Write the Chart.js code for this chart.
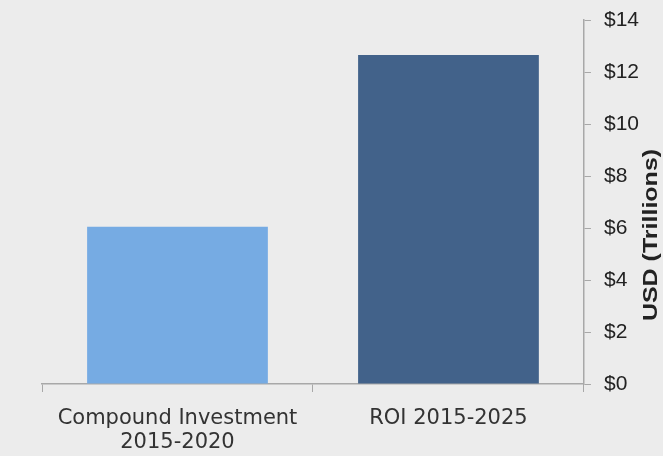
<!DOCTYPE html>
<html>
<head>
<meta charset="utf-8">
<script src="https://cdn.jsdelivr.net/npm/chart.js@4"></script>
<style>
  html, body { margin: 0; padding: 0; background: #ececec; }
  #wrap { width: 663px; height: 456px; }
</style>
</head>
<body>
<div id="wrap"><canvas id="bar-chartcanvas"></canvas></div>
<script>
// data
var categories = [["Compound Investment", "2015-2020"], "ROI 2015-2025"];
var values = [6.05, 12.65];
var barColors = ["#76abe3", "#42628a"];
var yTicks = [0, 2, 4, 6, 8, 10, 12, 14];
var yTitle = "USD (Trillions)";

var ctx = document.getElementById("bar-chartcanvas");

// axis title on the right, reading bottom to top
var yTitlePlugin = {
	id : "yTitle",
	afterDraw : function(chart) {
		var c = chart.ctx;
		var area = chart.chartArea;
		c.save();
		c.translate(651, (area.top + area.bottom) / 2 + 33);
		c.rotate(-Math.PI / 2);
		c.scale(1.25, 1);
		c.font = "bold 20px 'Liberation Sans', Arial, sans-serif";
		c.fillStyle = "#222";
		c.textAlign = "center";
		c.textBaseline = "middle";
		c.fillText(yTitle, 0, 0);
		c.restore();
	}
};

var data = {
	labels : categories,
	datasets : [
		{
			label : "USD",
			data : values,
			backgroundColor : barColors,
			borderWidth : 0,
			categoryPercentage : 1,
			barPercentage : 0.667
		}
	]
};

var options = {
	responsive : true,
	maintainAspectRatio : false,
	animation : false,
	layout : { padding : { left : 42, top : 20, right : 11, bottom : 0 } },
	plugins : {
		legend : { display : false },
		tooltip : { enabled : false }
	},
	scales : {
		x : {
			afterFit : function(axis) { axis.height = 72; },
			grid : {
				offset : true,
				drawOnChartArea : false,
				drawTicks : true,
				tickLength : 8,
				color : "#a8a8a8"
			},
			border : { color : "#a8a8a8", width : 1.5 },
			ticks : {
				color : "#333",
				font : { family : "'DejaVu Sans', sans-serif", size : 21, lineHeight : 1.15 },
				padding : 14,
				maxRotation : 0
			}
		},
		y : {
			position : "right",
			min : 0,
			max : 14,
			afterBuildTicks : function(axis) {
				axis.ticks = yTicks.map(function(v) { return { value : v }; });
			},
			afterFit : function(axis) { axis.paddingTop = 0; axis.paddingBottom = 0; },
			grid : {
				drawOnChartArea : false,
				drawTicks : true,
				tickLength : 7,
				color : "#a8a8a8"
			},
			border : { color : "#a8a8a8", width : 1.5 },
			ticks : {
				color : "#222",
				font : { family : "'Liberation Sans', Arial, sans-serif", size : 21 },
				padding : 13,
				callback : function(v) { return "$" + v; }
			}
		}
	}
};

var chart = new Chart(ctx, {
	type : "bar",
	data : data,
	options : options,
	plugins : [yTitlePlugin]
});
</script>
</body>
</html>
